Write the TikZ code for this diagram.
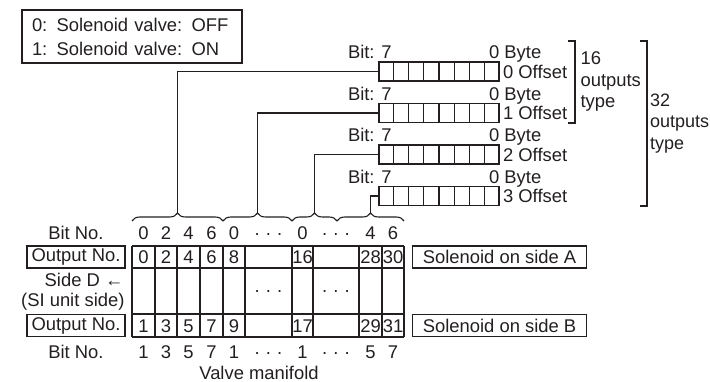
\documentclass[tikz,border=0pt]{standalone}
\usepackage{fontspec}
\setmainfont{Liberation Sans}
\usetikzlibrary{calc,decorations.pathreplacing}
\definecolor{Ink}{HTML}{231F20}
\newcommand{\gapdots}{·\ ·\ ·}

\begin{document}
\begin{tikzpicture}[
  x=1pt,
  y=-1pt,
  color=Ink,
  line width=1.1pt,
  txt/.style={font=\fontsize{18.4}{21.5}\selectfont,inner sep=0pt},
  lbox/.style={txt,draw,line width=1.1pt,minimum height=22pt},
  reg/.style={draw,minimum width=120pt,minimum height=19pt,inner sep=0pt},
  brc/.style={decorate,decoration={brace,amplitude=8pt}}
]
  \useasboundingbox (0,0) rectangle (710,382);

  % legend
  \node[txt,draw,font=\fontsize{18.4}{24}\selectfont,align=left,text width=200pt,inner xsep=10pt,minimum height=53pt] (key) at (132,36.5) {0: Solenoid valve: OFF\\1: Solenoid valve: ON};

  % byte registers
  \foreach \n/\y in {0/71.5,1/113,2/154.5,3/196} {
    \node[reg] (r\n) at (439,\y) {};
    \foreach \i in {1,...,7}
      \draw ($(r\n.south west)!\i/8!(r\n.south east)$) -- ($(r\n.north west)!\i/8!(r\n.north east)$);
    \node[txt,anchor=base west] (hi\n) at ($(r\n.north west)+(-31,-2.5)$) {Bit: 7};
    \node[txt,anchor=base west] (lo\n) at ($(r\n.north east)+(-11,-2.5)$) {0 Byte};
    \node[txt,anchor=west] (off\n) at ($(r\n.east)+(3,0)$) {\n\ Offset};
  }

  % output type brackets
  \draw (568,41) -- (575,41) -- (575,123) -- (568,123);
  \node[txt,align=left,anchor=west] (t16) at (580,81.5) {16\\outputs\\type};
  \draw (640,41) -- (647,41) -- (647,206) -- (640,206);
  \node[txt,font=\fontsize{18}{21.5}\selectfont,align=left,anchor=west] (t32) at (649.5,123.5) {32\\outputs\\type};

  % braces over the manifold
  \draw[brc] (132,221) -- (223,221);
  \draw[brc] (223,221) -- (292,221);
  \draw[brc] (292,221) -- (337,221);
  \draw[brc] (337,221) -- (404,221);
  \coordinate (k0) at (177.5,213);
  \coordinate (k1) at (257.5,213);
  \coordinate (k2) at (314.5,213);
  \coordinate (k3) at (370.5,213);
  \foreach \n in {0,...,3}
    \draw (r\n.west) -| (k\n);

  % manifold table
  \foreach \y in {246,268,314,337}
    \draw (132,\y) -- (404,\y);
  \foreach \x in {132,155,177,200,223,245,292,313,359,382,404}
    \draw (\x,246) -- (\x,337);
  \foreach \x/\a/\b in {143.5/0/1,166/2/3,188.5/4/5,211.5/6/7,234/8/9,302.5/16/17,370.5/28/29,393/30/31} {
    \node[txt,anchor=base] (a\a) at (\x,263.6) {\a};
    \node[txt,anchor=base] (b\b) at (\x,332) {\b};
  }
  \foreach \x/\a/\b [count=\k] in {143.5/0/1,166/2/3,188.5/4/5,211.5/6/7,234/0/1,268.5/\gapdots/\gapdots,302.5/0/1,336/\gapdots/\gapdots,370.5/4/5,393/6/7} {
    \node[txt,anchor=base] (ta\k) at (\x,239.6) {\a};
    \node[txt,anchor=base] (tb\k) at (\x,358.6) {\b};
  }
  \node[txt,anchor=base] (m1) at (268.5,297) {\gapdots};
  \node[txt,anchor=base] (m2) at (336,297) {\gapdots};

  % row labels
  \node[txt] (bn0) at (76,233) {Bit No.};
  \node[lbox,minimum width=98pt] (on0) at (76,257) {Output No.};
  \node[txt,anchor=east] (side) at (124,280) {Side D ←};
  \node[txt,anchor=east] (si) at (125,302) {(SI unit side)};
  \node[lbox,minimum width=98pt] (on1) at (76,325.5) {Output No.};
  \node[txt] (bn1) at (76,352) {Bit No.};
  \node[lbox,minimum width=174pt,anchor=west] (sa) at (412,257) {Solenoid on side A};
  \node[lbox,minimum width=174pt,anchor=west] (sb) at (412,325.5) {Solenoid on side B};
  \node[txt] (vm) at (259,373) {Valve manifold};
\end{tikzpicture}
\end{document}
